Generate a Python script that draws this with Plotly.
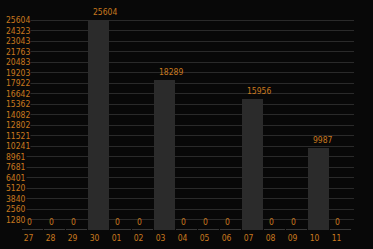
import plotly.graph_objects as go

days = ["27", "28", "29", "30", "01", "02", "03", "04", "05", "06", "07", "08", "09", "10", "11"]
values = [0, 0, 0, 25604, 0, 0, 18289, 0, 0, 0, 15956, 0, 0, 9987, 0]
y_ticks = [1280, 2560, 3840, 5120, 6401, 7681, 8961, 10241, 11521, 12802,
           14082, 15362, 16642, 17922, 19203, 20483, 21763, 23043, 24323, 25604]

BG = "#080808"
BAR = "#2b2b2b"
GRID = "#2a2a2a"
ORANGE = "#c8781e"
FONT = "DejaVu Sans Condensed"
FS = 8.5

W, H = 373, 249
ml, mr, mt, mb = 22, 19, 10, 19
plot_h = H - mt - mb
ymax = max(y_ticks) * plot_h / 210.0
px = ymax / plot_h  # data units per pixel
idx = list(range(len(days)))

fig = go.Figure()
# thin floor line under each slot
fig.add_trace(go.Bar(x=idx, y=[px] * len(days), marker=dict(color="#383838", line=dict(width=0)),
                     width=0.955, hoverinfo="skip"))
fig.add_trace(go.Bar(x=idx, y=values, marker=dict(color=BAR, line=dict(width=0)),
                     width=0.955, hoverinfo="skip"))

annotations = []
for i, v in zip(idx, values):
    annotations.append(dict(x=i, y=v, xref="x", yref="y", text=str(v), showarrow=False,
                            xanchor="left", yanchor="bottom", xshift=-7.5, yshift=1,
                            font=dict(family=FONT, size=FS, color=ORANGE)))
for t in y_ticks:
    annotations.append(dict(x=(5 - ml) / (W - ml - mr), y=t, xref="paper", yref="y", text=str(t),
                            showarrow=False, xanchor="left", yanchor="middle", yshift=0,
                            bgcolor=BG, borderpad=0,
                            font=dict(family=FONT, size=FS, color=ORANGE)))

fig.update_layout(
    width=W, height=H, margin=dict(l=ml, r=mr, t=mt, b=mb, autoexpand=False),
    paper_bgcolor=BG, plot_bgcolor=BG, barmode="overlay", bargap=0,
    showlegend=False, annotations=annotations,
    xaxis=dict(range=[-0.477, -0.477 + (W - ml - mr) / 22.0],
               tickvals=idx, ticktext=days, automargin=False,
               showgrid=False, zeroline=False, showline=False, ticks="",
               ticklabelshift=-4, ticklabelstandoff=1,
               tickfont=dict(family=FONT, size=FS, color=ORANGE)),
    yaxis=dict(range=[0, ymax], tickvals=y_ticks, showticklabels=False, automargin=False,
               showgrid=True, gridcolor=GRID, gridwidth=1, zeroline=False, showline=False),
)
fig.write_html("out.html")
